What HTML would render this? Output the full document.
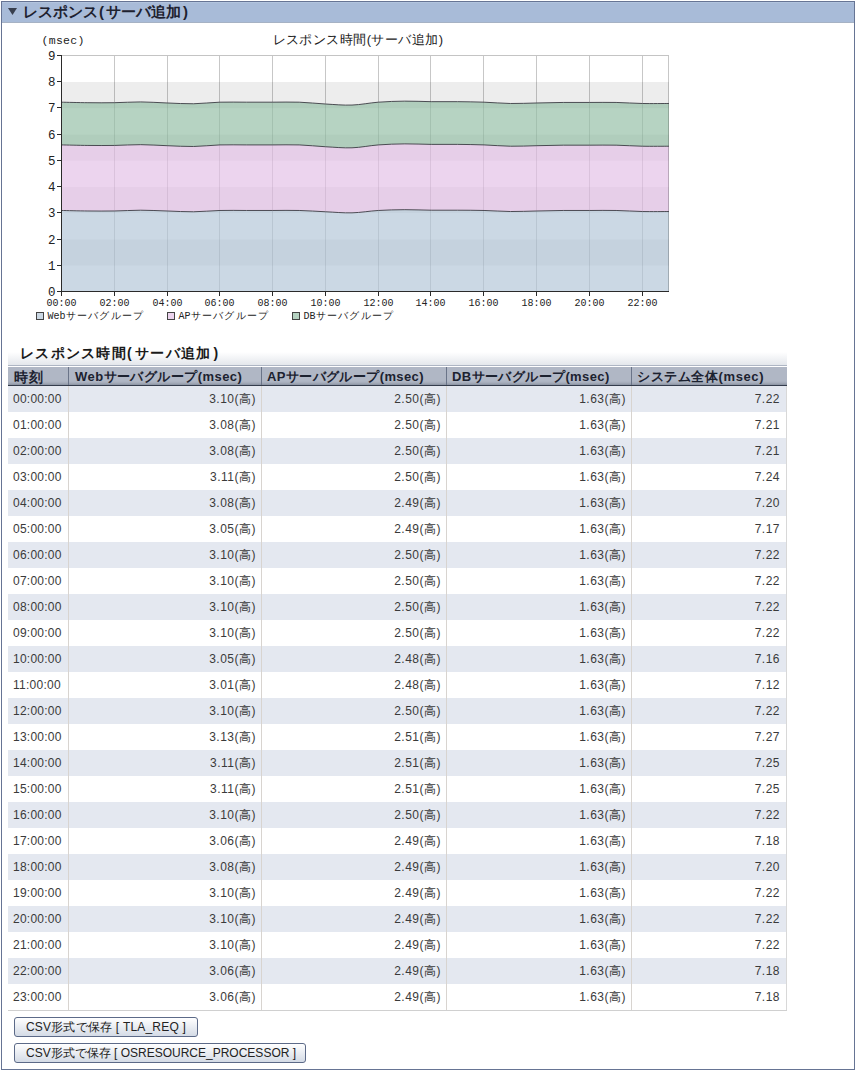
<!DOCTYPE html>
<html><head><meta charset="utf-8"><style>
html,body{margin:0;padding:0}
body{width:855px;height:1070px;position:relative;overflow:hidden;background:#fff;font-family:"Liberation Sans",sans-serif;color:#222}
.abs{position:absolute}
.row{position:absolute;left:8px;width:779px;height:26px}
.cell{position:absolute;height:26px;line-height:26px;font-size:12px;letter-spacing:0.5px;color:#3a3a3a;white-space:nowrap;box-sizing:border-box}
.hcell{position:absolute;top:368px;height:18px;line-height:18px;font-size:13px;letter-spacing:0.4px;font-weight:bold;color:#1c2230;white-space:nowrap}
.btn{position:absolute;left:14px;height:20px;box-sizing:border-box;border:1px solid #5c6a88;border-radius:3px;background:linear-gradient(#ffffff,#d4dbe6);font-size:12px;line-height:18px;padding-left:11px;letter-spacing:0.2px;color:#222;white-space:nowrap}
</style></head><body>
<div class="abs" style="left:1px;top:1px;width:852px;height:1067px;border:1px solid #667494"></div>
<div class="abs" style="left:2px;top:2px;width:852px;height:20px;background:#a8bbd8;border-bottom:1px solid #a6b2c4"></div>
<div class="abs" style="left:2px;top:2px;width:852px;height:1px;background:#b2c4de"></div>
<svg class="abs" style="left:0;top:0" width="30" height="25"><polygon points="8,8 17,8 12.5,15" fill="#383f4e"/></svg>
<div class="abs" style="left:23px;top:2px;height:20px;line-height:20px;font-size:15px;font-weight:bold;color:#1e2230;white-space:nowrap">レスポンス<span style="margin:0 2px 0 1px">(</span>サーバ追加<span style="margin-left:2px">)</span></div>
<svg width="855" height="335" style="position:absolute;left:0;top:0">
<rect x="62" y="265.53" width="607" height="26.22" fill="#ffffff"/>
<rect x="62" y="239.31" width="607" height="26.22" fill="#ededed"/>
<rect x="62" y="213.09" width="607" height="26.22" fill="#ffffff"/>
<rect x="62" y="186.87" width="607" height="26.22" fill="#ededed"/>
<rect x="62" y="160.65" width="607" height="26.22" fill="#ffffff"/>
<rect x="62" y="134.43" width="607" height="26.22" fill="#ededed"/>
<rect x="62" y="108.21" width="607" height="26.22" fill="#ffffff"/>
<rect x="62" y="81.99" width="607" height="26.22" fill="#ededed"/>
<rect x="62" y="55.77" width="607" height="26.22" fill="#ffffff"/>
<line x1="114.5" y1="56" x2="114.5" y2="291" stroke="#000" stroke-opacity="0.22" stroke-width="1"/>
<line x1="167.5" y1="56" x2="167.5" y2="291" stroke="#000" stroke-opacity="0.22" stroke-width="1"/>
<line x1="219.5" y1="56" x2="219.5" y2="291" stroke="#000" stroke-opacity="0.22" stroke-width="1"/>
<line x1="272.5" y1="56" x2="272.5" y2="291" stroke="#000" stroke-opacity="0.22" stroke-width="1"/>
<line x1="325.5" y1="56" x2="325.5" y2="291" stroke="#000" stroke-opacity="0.22" stroke-width="1"/>
<line x1="378.5" y1="56" x2="378.5" y2="291" stroke="#000" stroke-opacity="0.22" stroke-width="1"/>
<line x1="430.5" y1="56" x2="430.5" y2="291" stroke="#000" stroke-opacity="0.22" stroke-width="1"/>
<line x1="483.5" y1="56" x2="483.5" y2="291" stroke="#000" stroke-opacity="0.22" stroke-width="1"/>
<line x1="536.5" y1="56" x2="536.5" y2="291" stroke="#000" stroke-opacity="0.22" stroke-width="1"/>
<line x1="589.5" y1="56" x2="589.5" y2="291" stroke="#000" stroke-opacity="0.22" stroke-width="1"/>
<line x1="642.5" y1="56" x2="642.5" y2="291" stroke="#000" stroke-opacity="0.22" stroke-width="1"/>
<path d="M61.50,210.47 C65.90,210.56 79.11,210.91 87.91,210.99 C96.71,211.08 105.52,211.12 114.32,210.99 C123.12,210.86 131.93,210.21 140.73,210.21 C149.53,210.21 158.34,210.73 167.14,210.99 C175.94,211.25 184.75,211.87 193.55,211.78 C202.35,211.69 211.16,210.69 219.96,210.47 C228.76,210.25 237.57,210.47 246.37,210.47 C255.17,210.47 263.98,210.47 272.78,210.47 C281.58,210.47 290.39,210.25 299.19,210.47 C307.99,210.69 316.80,211.39 325.60,211.78 C334.40,212.17 343.21,213.05 352.01,212.83 C360.81,212.61 369.62,210.99 378.42,210.47 C387.22,209.94 396.03,209.73 404.83,209.68 C413.63,209.64 422.44,210.12 431.24,210.21 C440.04,210.29 448.85,210.16 457.65,210.21 C466.45,210.25 475.26,210.25 484.06,210.47 C492.86,210.69 501.67,211.43 510.47,211.52 C519.27,211.60 528.08,211.17 536.88,210.99 C545.68,210.82 554.49,210.56 563.29,210.47 C572.09,210.38 580.90,210.47 589.70,210.47 C598.50,210.47 607.31,210.29 616.11,210.47 C624.91,210.64 633.72,211.34 642.52,211.52 C651.32,211.69 664.53,211.52 668.93,211.52 L668.93,291.75 C664.53,291.75 651.32,291.75 642.52,291.75 C633.72,291.75 624.91,291.75 616.11,291.75 C607.31,291.75 598.50,291.75 589.70,291.75 C580.90,291.75 572.09,291.75 563.29,291.75 C554.49,291.75 545.68,291.75 536.88,291.75 C528.08,291.75 519.27,291.75 510.47,291.75 C501.67,291.75 492.86,291.75 484.06,291.75 C475.26,291.75 466.45,291.75 457.65,291.75 C448.85,291.75 440.04,291.75 431.24,291.75 C422.44,291.75 413.63,291.75 404.83,291.75 C396.03,291.75 387.22,291.75 378.42,291.75 C369.62,291.75 360.81,291.75 352.01,291.75 C343.21,291.75 334.40,291.75 325.60,291.75 C316.80,291.75 307.99,291.75 299.19,291.75 C290.39,291.75 281.58,291.75 272.78,291.75 C263.98,291.75 255.17,291.75 246.37,291.75 C237.57,291.75 228.76,291.75 219.96,291.75 C211.16,291.75 202.35,291.75 193.55,291.75 C184.75,291.75 175.94,291.75 167.14,291.75 C158.34,291.75 149.53,291.75 140.73,291.75 C131.93,291.75 123.12,291.75 114.32,291.75 C105.52,291.75 96.71,291.75 87.91,291.75 C79.11,291.75 65.90,291.75 61.50,291.75 Z" fill="#b2c6d7" fill-opacity="0.68"/>
<path d="M61.50,144.92 C65.90,145.01 79.11,145.35 87.91,145.44 C96.71,145.53 105.52,145.57 114.32,145.44 C123.12,145.31 131.93,144.61 140.73,144.66 C149.53,144.70 158.34,145.40 167.14,145.70 C175.94,146.01 184.75,146.62 193.55,146.49 C202.35,146.36 211.16,145.18 219.96,144.92 C228.76,144.66 237.57,144.92 246.37,144.92 C255.17,144.92 263.98,144.92 272.78,144.92 C281.58,144.92 290.39,144.61 299.19,144.92 C307.99,145.22 316.80,146.27 325.60,146.75 C334.40,147.23 343.21,148.11 352.01,147.80 C360.81,147.50 369.62,145.57 378.42,144.92 C387.22,144.26 396.03,143.96 404.83,143.87 C413.63,143.78 422.44,144.31 431.24,144.39 C440.04,144.48 448.85,144.31 457.65,144.39 C466.45,144.48 475.26,144.61 484.06,144.92 C492.86,145.22 501.67,146.10 510.47,146.23 C519.27,146.36 528.08,145.88 536.88,145.70 C545.68,145.53 554.49,145.27 563.29,145.18 C572.09,145.09 580.90,145.18 589.70,145.18 C598.50,145.18 607.31,145.01 616.11,145.18 C624.91,145.36 633.72,146.05 642.52,146.23 C651.32,146.40 664.53,146.23 668.93,146.23 L668.93,211.52 C664.53,211.52 651.32,211.69 642.52,211.52 C633.72,211.34 624.91,210.64 616.11,210.47 C607.31,210.29 598.50,210.47 589.70,210.47 C580.90,210.47 572.09,210.38 563.29,210.47 C554.49,210.56 545.68,210.82 536.88,210.99 C528.08,211.17 519.27,211.60 510.47,211.52 C501.67,211.43 492.86,210.69 484.06,210.47 C475.26,210.25 466.45,210.25 457.65,210.21 C448.85,210.16 440.04,210.29 431.24,210.21 C422.44,210.12 413.63,209.64 404.83,209.68 C396.03,209.73 387.22,209.94 378.42,210.47 C369.62,210.99 360.81,212.61 352.01,212.83 C343.21,213.05 334.40,212.17 325.60,211.78 C316.80,211.39 307.99,210.69 299.19,210.47 C290.39,210.25 281.58,210.47 272.78,210.47 C263.98,210.47 255.17,210.47 246.37,210.47 C237.57,210.47 228.76,210.25 219.96,210.47 C211.16,210.69 202.35,211.69 193.55,211.78 C184.75,211.87 175.94,211.25 167.14,210.99 C158.34,210.73 149.53,210.21 140.73,210.21 C131.93,210.21 123.12,210.86 114.32,210.99 C105.52,211.12 96.71,211.08 87.91,210.99 C79.11,210.91 65.90,210.56 61.50,210.47 Z" fill="#e3c0e6" fill-opacity="0.68"/>
<path d="M61.50,102.18 C65.90,102.27 79.11,102.62 87.91,102.70 C96.71,102.79 105.52,102.83 114.32,102.70 C123.12,102.57 131.93,101.87 140.73,101.92 C149.53,101.96 158.34,102.66 167.14,102.97 C175.94,103.27 184.75,103.88 193.55,103.75 C202.35,103.62 211.16,102.44 219.96,102.18 C228.76,101.92 237.57,102.18 246.37,102.18 C255.17,102.18 263.98,102.18 272.78,102.18 C281.58,102.18 290.39,101.87 299.19,102.18 C307.99,102.49 316.80,103.53 325.60,104.01 C334.40,104.50 343.21,105.37 352.01,105.06 C360.81,104.76 369.62,102.83 378.42,102.18 C387.22,101.52 396.03,101.22 404.83,101.13 C413.63,101.04 422.44,101.57 431.24,101.66 C440.04,101.74 448.85,101.57 457.65,101.66 C466.45,101.74 475.26,101.87 484.06,102.18 C492.86,102.49 501.67,103.36 510.47,103.49 C519.27,103.62 528.08,103.14 536.88,102.97 C545.68,102.79 554.49,102.53 563.29,102.44 C572.09,102.35 580.90,102.44 589.70,102.44 C598.50,102.44 607.31,102.27 616.11,102.44 C624.91,102.62 633.72,103.32 642.52,103.49 C651.32,103.67 664.53,103.49 668.93,103.49 L668.93,146.23 C664.53,146.23 651.32,146.40 642.52,146.23 C633.72,146.05 624.91,145.36 616.11,145.18 C607.31,145.01 598.50,145.18 589.70,145.18 C580.90,145.18 572.09,145.09 563.29,145.18 C554.49,145.27 545.68,145.53 536.88,145.70 C528.08,145.88 519.27,146.36 510.47,146.23 C501.67,146.10 492.86,145.22 484.06,144.92 C475.26,144.61 466.45,144.48 457.65,144.39 C448.85,144.31 440.04,144.48 431.24,144.39 C422.44,144.31 413.63,143.78 404.83,143.87 C396.03,143.96 387.22,144.26 378.42,144.92 C369.62,145.57 360.81,147.50 352.01,147.80 C343.21,148.11 334.40,147.23 325.60,146.75 C316.80,146.27 307.99,145.22 299.19,144.92 C290.39,144.61 281.58,144.92 272.78,144.92 C263.98,144.92 255.17,144.92 246.37,144.92 C237.57,144.92 228.76,144.66 219.96,144.92 C211.16,145.18 202.35,146.36 193.55,146.49 C184.75,146.62 175.94,146.01 167.14,145.70 C158.34,145.40 149.53,144.70 140.73,144.66 C131.93,144.61 123.12,145.31 114.32,145.44 C105.52,145.57 96.71,145.53 87.91,145.44 C79.11,145.35 65.90,145.01 61.50,144.92 Z" fill="#94bea5" fill-opacity="0.68"/>
<line x1="62" y1="55.5" x2="669" y2="55.5" stroke="#c4c4c4" stroke-width="1"/>
<line x1="668.5" y1="56" x2="668.5" y2="291" stroke="#000" stroke-opacity="0.22" stroke-width="1"/>
<path d="M61.50,210.47 C65.90,210.56 79.11,210.91 87.91,210.99 C96.71,211.08 105.52,211.12 114.32,210.99 C123.12,210.86 131.93,210.21 140.73,210.21 C149.53,210.21 158.34,210.73 167.14,210.99 C175.94,211.25 184.75,211.87 193.55,211.78 C202.35,211.69 211.16,210.69 219.96,210.47 C228.76,210.25 237.57,210.47 246.37,210.47 C255.17,210.47 263.98,210.47 272.78,210.47 C281.58,210.47 290.39,210.25 299.19,210.47 C307.99,210.69 316.80,211.39 325.60,211.78 C334.40,212.17 343.21,213.05 352.01,212.83 C360.81,212.61 369.62,210.99 378.42,210.47 C387.22,209.94 396.03,209.73 404.83,209.68 C413.63,209.64 422.44,210.12 431.24,210.21 C440.04,210.29 448.85,210.16 457.65,210.21 C466.45,210.25 475.26,210.25 484.06,210.47 C492.86,210.69 501.67,211.43 510.47,211.52 C519.27,211.60 528.08,211.17 536.88,210.99 C545.68,210.82 554.49,210.56 563.29,210.47 C572.09,210.38 580.90,210.47 589.70,210.47 C598.50,210.47 607.31,210.29 616.11,210.47 C624.91,210.64 633.72,211.34 642.52,211.52 C651.32,211.69 664.53,211.52 668.93,211.52" fill="none" stroke="#3c3c44" stroke-width="1" stroke-opacity="0.9"/>
<path d="M61.50,144.92 C65.90,145.01 79.11,145.35 87.91,145.44 C96.71,145.53 105.52,145.57 114.32,145.44 C123.12,145.31 131.93,144.61 140.73,144.66 C149.53,144.70 158.34,145.40 167.14,145.70 C175.94,146.01 184.75,146.62 193.55,146.49 C202.35,146.36 211.16,145.18 219.96,144.92 C228.76,144.66 237.57,144.92 246.37,144.92 C255.17,144.92 263.98,144.92 272.78,144.92 C281.58,144.92 290.39,144.61 299.19,144.92 C307.99,145.22 316.80,146.27 325.60,146.75 C334.40,147.23 343.21,148.11 352.01,147.80 C360.81,147.50 369.62,145.57 378.42,144.92 C387.22,144.26 396.03,143.96 404.83,143.87 C413.63,143.78 422.44,144.31 431.24,144.39 C440.04,144.48 448.85,144.31 457.65,144.39 C466.45,144.48 475.26,144.61 484.06,144.92 C492.86,145.22 501.67,146.10 510.47,146.23 C519.27,146.36 528.08,145.88 536.88,145.70 C545.68,145.53 554.49,145.27 563.29,145.18 C572.09,145.09 580.90,145.18 589.70,145.18 C598.50,145.18 607.31,145.01 616.11,145.18 C624.91,145.36 633.72,146.05 642.52,146.23 C651.32,146.40 664.53,146.23 668.93,146.23" fill="none" stroke="#3c3c44" stroke-width="1" stroke-opacity="0.9"/>
<path d="M61.50,102.18 C65.90,102.27 79.11,102.62 87.91,102.70 C96.71,102.79 105.52,102.83 114.32,102.70 C123.12,102.57 131.93,101.87 140.73,101.92 C149.53,101.96 158.34,102.66 167.14,102.97 C175.94,103.27 184.75,103.88 193.55,103.75 C202.35,103.62 211.16,102.44 219.96,102.18 C228.76,101.92 237.57,102.18 246.37,102.18 C255.17,102.18 263.98,102.18 272.78,102.18 C281.58,102.18 290.39,101.87 299.19,102.18 C307.99,102.49 316.80,103.53 325.60,104.01 C334.40,104.50 343.21,105.37 352.01,105.06 C360.81,104.76 369.62,102.83 378.42,102.18 C387.22,101.52 396.03,101.22 404.83,101.13 C413.63,101.04 422.44,101.57 431.24,101.66 C440.04,101.74 448.85,101.57 457.65,101.66 C466.45,101.74 475.26,101.87 484.06,102.18 C492.86,102.49 501.67,103.36 510.47,103.49 C519.27,103.62 528.08,103.14 536.88,102.97 C545.68,102.79 554.49,102.53 563.29,102.44 C572.09,102.35 580.90,102.44 589.70,102.44 C598.50,102.44 607.31,102.27 616.11,102.44 C624.91,102.62 633.72,103.32 642.52,103.49 C651.32,103.67 664.53,103.49 668.93,103.49" fill="none" stroke="#3c3c44" stroke-width="1" stroke-opacity="0.9"/>
<line x1="61.5" y1="55" x2="61.5" y2="292" stroke="#2a2a2a" stroke-width="1"/>
<line x1="61" y1="291.5" x2="669" y2="291.5" stroke="#2a2a2a" stroke-width="1"/>
<line x1="57" y1="291.5" x2="61.5" y2="291.5" stroke="#2a2a2a" stroke-width="1"/>
<text x="55.5" y="295.5" text-anchor="end" font-family="Liberation Mono" font-size="12.5" fill="#222">0</text>
<line x1="57" y1="265.5" x2="61.5" y2="265.5" stroke="#2a2a2a" stroke-width="1"/>
<text x="55.5" y="269.5" text-anchor="end" font-family="Liberation Mono" font-size="12.5" fill="#222">1</text>
<line x1="57" y1="239.5" x2="61.5" y2="239.5" stroke="#2a2a2a" stroke-width="1"/>
<text x="55.5" y="243.5" text-anchor="end" font-family="Liberation Mono" font-size="12.5" fill="#222">2</text>
<line x1="57" y1="212.5" x2="61.5" y2="212.5" stroke="#2a2a2a" stroke-width="1"/>
<text x="55.5" y="216.5" text-anchor="end" font-family="Liberation Mono" font-size="12.5" fill="#222">3</text>
<line x1="57" y1="186.5" x2="61.5" y2="186.5" stroke="#2a2a2a" stroke-width="1"/>
<text x="55.5" y="190.5" text-anchor="end" font-family="Liberation Mono" font-size="12.5" fill="#222">4</text>
<line x1="57" y1="160.5" x2="61.5" y2="160.5" stroke="#2a2a2a" stroke-width="1"/>
<text x="55.5" y="164.5" text-anchor="end" font-family="Liberation Mono" font-size="12.5" fill="#222">5</text>
<line x1="57" y1="134.5" x2="61.5" y2="134.5" stroke="#2a2a2a" stroke-width="1"/>
<text x="55.5" y="138.5" text-anchor="end" font-family="Liberation Mono" font-size="12.5" fill="#222">6</text>
<line x1="57" y1="107.5" x2="61.5" y2="107.5" stroke="#2a2a2a" stroke-width="1"/>
<text x="55.5" y="111.5" text-anchor="end" font-family="Liberation Mono" font-size="12.5" fill="#222">7</text>
<line x1="57" y1="81.5" x2="61.5" y2="81.5" stroke="#2a2a2a" stroke-width="1"/>
<text x="55.5" y="85.5" text-anchor="end" font-family="Liberation Mono" font-size="12.5" fill="#222">8</text>
<line x1="57" y1="55.5" x2="61.5" y2="55.5" stroke="#2a2a2a" stroke-width="1"/>
<text x="55.5" y="59.5" text-anchor="end" font-family="Liberation Mono" font-size="12.5" fill="#222">9</text>
<line x1="61.5" y1="291" x2="61.5" y2="296" stroke="#2a2a2a" stroke-width="1"/>
<text x="61.5" y="306" text-anchor="middle" font-family="Liberation Mono" font-size="10" fill="#222">00:00</text>
<line x1="114.5" y1="291" x2="114.5" y2="296" stroke="#2a2a2a" stroke-width="1"/>
<text x="114.5" y="306" text-anchor="middle" font-family="Liberation Mono" font-size="10" fill="#222">02:00</text>
<line x1="167.5" y1="291" x2="167.5" y2="296" stroke="#2a2a2a" stroke-width="1"/>
<text x="167.5" y="306" text-anchor="middle" font-family="Liberation Mono" font-size="10" fill="#222">04:00</text>
<line x1="219.5" y1="291" x2="219.5" y2="296" stroke="#2a2a2a" stroke-width="1"/>
<text x="219.5" y="306" text-anchor="middle" font-family="Liberation Mono" font-size="10" fill="#222">06:00</text>
<line x1="272.5" y1="291" x2="272.5" y2="296" stroke="#2a2a2a" stroke-width="1"/>
<text x="272.5" y="306" text-anchor="middle" font-family="Liberation Mono" font-size="10" fill="#222">08:00</text>
<line x1="325.5" y1="291" x2="325.5" y2="296" stroke="#2a2a2a" stroke-width="1"/>
<text x="325.5" y="306" text-anchor="middle" font-family="Liberation Mono" font-size="10" fill="#222">10:00</text>
<line x1="378.5" y1="291" x2="378.5" y2="296" stroke="#2a2a2a" stroke-width="1"/>
<text x="378.5" y="306" text-anchor="middle" font-family="Liberation Mono" font-size="10" fill="#222">12:00</text>
<line x1="430.5" y1="291" x2="430.5" y2="296" stroke="#2a2a2a" stroke-width="1"/>
<text x="430.5" y="306" text-anchor="middle" font-family="Liberation Mono" font-size="10" fill="#222">14:00</text>
<line x1="483.5" y1="291" x2="483.5" y2="296" stroke="#2a2a2a" stroke-width="1"/>
<text x="483.5" y="306" text-anchor="middle" font-family="Liberation Mono" font-size="10" fill="#222">16:00</text>
<line x1="536.5" y1="291" x2="536.5" y2="296" stroke="#2a2a2a" stroke-width="1"/>
<text x="536.5" y="306" text-anchor="middle" font-family="Liberation Mono" font-size="10" fill="#222">18:00</text>
<line x1="589.5" y1="291" x2="589.5" y2="296" stroke="#2a2a2a" stroke-width="1"/>
<text x="589.5" y="306" text-anchor="middle" font-family="Liberation Mono" font-size="10" fill="#222">20:00</text>
<line x1="642.5" y1="291" x2="642.5" y2="296" stroke="#2a2a2a" stroke-width="1"/>
<text x="642.5" y="306" text-anchor="middle" font-family="Liberation Mono" font-size="10" fill="#222">22:00</text>
<text x="41.5" y="43.5" font-family="Liberation Mono" font-size="11.5" letter-spacing="0.3" fill="#222">(msec)</text>
<text x="358" y="43.5" text-anchor="middle" font-family="Liberation Sans" font-size="13" letter-spacing="0.45" fill="#222">レスポンス時間(サーバ追加)</text>
<rect x="36.5" y="312.5" width="7" height="7" fill="#cbd8e4" stroke="#444" stroke-width="1"/>
<text x="47.5" y="319" font-family="Liberation Mono" font-size="10" fill="#222">Web<tspan letter-spacing="1.3">サーバグループ</tspan></text>
<rect x="167.5" y="312.5" width="7" height="7" fill="#ecd4ee" stroke="#444" stroke-width="1"/>
<text x="178.5" y="319" font-family="Liberation Mono" font-size="10" fill="#222">AP<tspan letter-spacing="1.3">サーバグループ</tspan></text>
<rect x="292.5" y="312.5" width="7" height="7" fill="#b6d3c2" stroke="#444" stroke-width="1"/>
<text x="303.5" y="319" font-family="Liberation Mono" font-size="10" fill="#222">DB<tspan letter-spacing="1.3">サーバグループ</tspan></text>
</svg>
<div class="abs" style="left:8px;top:352px;width:779px;height:13px;background:linear-gradient(#ffffff,#e4e7ec);border-bottom:1px solid #aeb6c4"></div>
<div class="abs" style="left:20px;top:343px;height:20px;line-height:20px;font-size:14px;font-weight:bold;letter-spacing:1.3px;color:#1a1a1a;white-space:nowrap">レスポンス時間<span style="margin-right:2px">(</span>サーバ追加<span style="margin-left:2px">)</span></div>
<div class="abs" style="left:8px;top:367px;width:779px;height:18px;background:linear-gradient(#b0b7c5 0,#b0b7c5 14px,#a4abb9 16px,#8a92a2 18px);border-bottom:1px solid #343c4c"></div>
<div class="hcell" style="left:14px;letter-spacing:1px;font-size:14px">時刻</div>
<div class="hcell" style="left:75px;letter-spacing:0.45px">Webサーバグループ(msec)</div>
<div class="hcell" style="left:267px;letter-spacing:0.4px">APサーバグループ(msec)</div>
<div class="hcell" style="left:452px;letter-spacing:0.4px">DBサーバグループ(msec)</div>
<div class="hcell" style="left:637px;letter-spacing:0.6px">システム全体(msec)</div>
<div class="row" style="top:386px;background:#e4e8f0"></div>
<div class="cell" style="top:386px;left:8px;width:60px;text-align:left;padding-left:5px;letter-spacing:0.25px">00:00:00</div>
<div class="cell" style="top:386px;left:68px;width:188px;text-align:right">3.10(高)</div>
<div class="cell" style="top:386px;left:261px;width:180px;text-align:right">2.50(高)</div>
<div class="cell" style="top:386px;left:446px;width:180px;text-align:right">1.63(高)</div>
<div class="cell" style="top:386px;left:631px;width:149px;text-align:right">7.22</div>
<div class="row" style="top:412px;background:#ffffff"></div>
<div class="cell" style="top:412px;left:8px;width:60px;text-align:left;padding-left:5px;letter-spacing:0.25px">01:00:00</div>
<div class="cell" style="top:412px;left:68px;width:188px;text-align:right">3.08(高)</div>
<div class="cell" style="top:412px;left:261px;width:180px;text-align:right">2.50(高)</div>
<div class="cell" style="top:412px;left:446px;width:180px;text-align:right">1.63(高)</div>
<div class="cell" style="top:412px;left:631px;width:149px;text-align:right">7.21</div>
<div class="row" style="top:438px;background:#e4e8f0"></div>
<div class="cell" style="top:438px;left:8px;width:60px;text-align:left;padding-left:5px;letter-spacing:0.25px">02:00:00</div>
<div class="cell" style="top:438px;left:68px;width:188px;text-align:right">3.08(高)</div>
<div class="cell" style="top:438px;left:261px;width:180px;text-align:right">2.50(高)</div>
<div class="cell" style="top:438px;left:446px;width:180px;text-align:right">1.63(高)</div>
<div class="cell" style="top:438px;left:631px;width:149px;text-align:right">7.21</div>
<div class="row" style="top:464px;background:#ffffff"></div>
<div class="cell" style="top:464px;left:8px;width:60px;text-align:left;padding-left:5px;letter-spacing:0.25px">03:00:00</div>
<div class="cell" style="top:464px;left:68px;width:188px;text-align:right">3.11(高)</div>
<div class="cell" style="top:464px;left:261px;width:180px;text-align:right">2.50(高)</div>
<div class="cell" style="top:464px;left:446px;width:180px;text-align:right">1.63(高)</div>
<div class="cell" style="top:464px;left:631px;width:149px;text-align:right">7.24</div>
<div class="row" style="top:490px;background:#e4e8f0"></div>
<div class="cell" style="top:490px;left:8px;width:60px;text-align:left;padding-left:5px;letter-spacing:0.25px">04:00:00</div>
<div class="cell" style="top:490px;left:68px;width:188px;text-align:right">3.08(高)</div>
<div class="cell" style="top:490px;left:261px;width:180px;text-align:right">2.49(高)</div>
<div class="cell" style="top:490px;left:446px;width:180px;text-align:right">1.63(高)</div>
<div class="cell" style="top:490px;left:631px;width:149px;text-align:right">7.20</div>
<div class="row" style="top:516px;background:#ffffff"></div>
<div class="cell" style="top:516px;left:8px;width:60px;text-align:left;padding-left:5px;letter-spacing:0.25px">05:00:00</div>
<div class="cell" style="top:516px;left:68px;width:188px;text-align:right">3.05(高)</div>
<div class="cell" style="top:516px;left:261px;width:180px;text-align:right">2.49(高)</div>
<div class="cell" style="top:516px;left:446px;width:180px;text-align:right">1.63(高)</div>
<div class="cell" style="top:516px;left:631px;width:149px;text-align:right">7.17</div>
<div class="row" style="top:542px;background:#e4e8f0"></div>
<div class="cell" style="top:542px;left:8px;width:60px;text-align:left;padding-left:5px;letter-spacing:0.25px">06:00:00</div>
<div class="cell" style="top:542px;left:68px;width:188px;text-align:right">3.10(高)</div>
<div class="cell" style="top:542px;left:261px;width:180px;text-align:right">2.50(高)</div>
<div class="cell" style="top:542px;left:446px;width:180px;text-align:right">1.63(高)</div>
<div class="cell" style="top:542px;left:631px;width:149px;text-align:right">7.22</div>
<div class="row" style="top:568px;background:#ffffff"></div>
<div class="cell" style="top:568px;left:8px;width:60px;text-align:left;padding-left:5px;letter-spacing:0.25px">07:00:00</div>
<div class="cell" style="top:568px;left:68px;width:188px;text-align:right">3.10(高)</div>
<div class="cell" style="top:568px;left:261px;width:180px;text-align:right">2.50(高)</div>
<div class="cell" style="top:568px;left:446px;width:180px;text-align:right">1.63(高)</div>
<div class="cell" style="top:568px;left:631px;width:149px;text-align:right">7.22</div>
<div class="row" style="top:594px;background:#e4e8f0"></div>
<div class="cell" style="top:594px;left:8px;width:60px;text-align:left;padding-left:5px;letter-spacing:0.25px">08:00:00</div>
<div class="cell" style="top:594px;left:68px;width:188px;text-align:right">3.10(高)</div>
<div class="cell" style="top:594px;left:261px;width:180px;text-align:right">2.50(高)</div>
<div class="cell" style="top:594px;left:446px;width:180px;text-align:right">1.63(高)</div>
<div class="cell" style="top:594px;left:631px;width:149px;text-align:right">7.22</div>
<div class="row" style="top:620px;background:#ffffff"></div>
<div class="cell" style="top:620px;left:8px;width:60px;text-align:left;padding-left:5px;letter-spacing:0.25px">09:00:00</div>
<div class="cell" style="top:620px;left:68px;width:188px;text-align:right">3.10(高)</div>
<div class="cell" style="top:620px;left:261px;width:180px;text-align:right">2.50(高)</div>
<div class="cell" style="top:620px;left:446px;width:180px;text-align:right">1.63(高)</div>
<div class="cell" style="top:620px;left:631px;width:149px;text-align:right">7.22</div>
<div class="row" style="top:646px;background:#e4e8f0"></div>
<div class="cell" style="top:646px;left:8px;width:60px;text-align:left;padding-left:5px;letter-spacing:0.25px">10:00:00</div>
<div class="cell" style="top:646px;left:68px;width:188px;text-align:right">3.05(高)</div>
<div class="cell" style="top:646px;left:261px;width:180px;text-align:right">2.48(高)</div>
<div class="cell" style="top:646px;left:446px;width:180px;text-align:right">1.63(高)</div>
<div class="cell" style="top:646px;left:631px;width:149px;text-align:right">7.16</div>
<div class="row" style="top:672px;background:#ffffff"></div>
<div class="cell" style="top:672px;left:8px;width:60px;text-align:left;padding-left:5px;letter-spacing:0.25px">11:00:00</div>
<div class="cell" style="top:672px;left:68px;width:188px;text-align:right">3.01(高)</div>
<div class="cell" style="top:672px;left:261px;width:180px;text-align:right">2.48(高)</div>
<div class="cell" style="top:672px;left:446px;width:180px;text-align:right">1.63(高)</div>
<div class="cell" style="top:672px;left:631px;width:149px;text-align:right">7.12</div>
<div class="row" style="top:698px;background:#e4e8f0"></div>
<div class="cell" style="top:698px;left:8px;width:60px;text-align:left;padding-left:5px;letter-spacing:0.25px">12:00:00</div>
<div class="cell" style="top:698px;left:68px;width:188px;text-align:right">3.10(高)</div>
<div class="cell" style="top:698px;left:261px;width:180px;text-align:right">2.50(高)</div>
<div class="cell" style="top:698px;left:446px;width:180px;text-align:right">1.63(高)</div>
<div class="cell" style="top:698px;left:631px;width:149px;text-align:right">7.22</div>
<div class="row" style="top:724px;background:#ffffff"></div>
<div class="cell" style="top:724px;left:8px;width:60px;text-align:left;padding-left:5px;letter-spacing:0.25px">13:00:00</div>
<div class="cell" style="top:724px;left:68px;width:188px;text-align:right">3.13(高)</div>
<div class="cell" style="top:724px;left:261px;width:180px;text-align:right">2.51(高)</div>
<div class="cell" style="top:724px;left:446px;width:180px;text-align:right">1.63(高)</div>
<div class="cell" style="top:724px;left:631px;width:149px;text-align:right">7.27</div>
<div class="row" style="top:750px;background:#e4e8f0"></div>
<div class="cell" style="top:750px;left:8px;width:60px;text-align:left;padding-left:5px;letter-spacing:0.25px">14:00:00</div>
<div class="cell" style="top:750px;left:68px;width:188px;text-align:right">3.11(高)</div>
<div class="cell" style="top:750px;left:261px;width:180px;text-align:right">2.51(高)</div>
<div class="cell" style="top:750px;left:446px;width:180px;text-align:right">1.63(高)</div>
<div class="cell" style="top:750px;left:631px;width:149px;text-align:right">7.25</div>
<div class="row" style="top:776px;background:#ffffff"></div>
<div class="cell" style="top:776px;left:8px;width:60px;text-align:left;padding-left:5px;letter-spacing:0.25px">15:00:00</div>
<div class="cell" style="top:776px;left:68px;width:188px;text-align:right">3.11(高)</div>
<div class="cell" style="top:776px;left:261px;width:180px;text-align:right">2.51(高)</div>
<div class="cell" style="top:776px;left:446px;width:180px;text-align:right">1.63(高)</div>
<div class="cell" style="top:776px;left:631px;width:149px;text-align:right">7.25</div>
<div class="row" style="top:802px;background:#e4e8f0"></div>
<div class="cell" style="top:802px;left:8px;width:60px;text-align:left;padding-left:5px;letter-spacing:0.25px">16:00:00</div>
<div class="cell" style="top:802px;left:68px;width:188px;text-align:right">3.10(高)</div>
<div class="cell" style="top:802px;left:261px;width:180px;text-align:right">2.50(高)</div>
<div class="cell" style="top:802px;left:446px;width:180px;text-align:right">1.63(高)</div>
<div class="cell" style="top:802px;left:631px;width:149px;text-align:right">7.22</div>
<div class="row" style="top:828px;background:#ffffff"></div>
<div class="cell" style="top:828px;left:8px;width:60px;text-align:left;padding-left:5px;letter-spacing:0.25px">17:00:00</div>
<div class="cell" style="top:828px;left:68px;width:188px;text-align:right">3.06(高)</div>
<div class="cell" style="top:828px;left:261px;width:180px;text-align:right">2.49(高)</div>
<div class="cell" style="top:828px;left:446px;width:180px;text-align:right">1.63(高)</div>
<div class="cell" style="top:828px;left:631px;width:149px;text-align:right">7.18</div>
<div class="row" style="top:854px;background:#e4e8f0"></div>
<div class="cell" style="top:854px;left:8px;width:60px;text-align:left;padding-left:5px;letter-spacing:0.25px">18:00:00</div>
<div class="cell" style="top:854px;left:68px;width:188px;text-align:right">3.08(高)</div>
<div class="cell" style="top:854px;left:261px;width:180px;text-align:right">2.49(高)</div>
<div class="cell" style="top:854px;left:446px;width:180px;text-align:right">1.63(高)</div>
<div class="cell" style="top:854px;left:631px;width:149px;text-align:right">7.20</div>
<div class="row" style="top:880px;background:#ffffff"></div>
<div class="cell" style="top:880px;left:8px;width:60px;text-align:left;padding-left:5px;letter-spacing:0.25px">19:00:00</div>
<div class="cell" style="top:880px;left:68px;width:188px;text-align:right">3.10(高)</div>
<div class="cell" style="top:880px;left:261px;width:180px;text-align:right">2.49(高)</div>
<div class="cell" style="top:880px;left:446px;width:180px;text-align:right">1.63(高)</div>
<div class="cell" style="top:880px;left:631px;width:149px;text-align:right">7.22</div>
<div class="row" style="top:906px;background:#e4e8f0"></div>
<div class="cell" style="top:906px;left:8px;width:60px;text-align:left;padding-left:5px;letter-spacing:0.25px">20:00:00</div>
<div class="cell" style="top:906px;left:68px;width:188px;text-align:right">3.10(高)</div>
<div class="cell" style="top:906px;left:261px;width:180px;text-align:right">2.49(高)</div>
<div class="cell" style="top:906px;left:446px;width:180px;text-align:right">1.63(高)</div>
<div class="cell" style="top:906px;left:631px;width:149px;text-align:right">7.22</div>
<div class="row" style="top:932px;background:#ffffff"></div>
<div class="cell" style="top:932px;left:8px;width:60px;text-align:left;padding-left:5px;letter-spacing:0.25px">21:00:00</div>
<div class="cell" style="top:932px;left:68px;width:188px;text-align:right">3.10(高)</div>
<div class="cell" style="top:932px;left:261px;width:180px;text-align:right">2.49(高)</div>
<div class="cell" style="top:932px;left:446px;width:180px;text-align:right">1.63(高)</div>
<div class="cell" style="top:932px;left:631px;width:149px;text-align:right">7.22</div>
<div class="row" style="top:958px;background:#e4e8f0"></div>
<div class="cell" style="top:958px;left:8px;width:60px;text-align:left;padding-left:5px;letter-spacing:0.25px">22:00:00</div>
<div class="cell" style="top:958px;left:68px;width:188px;text-align:right">3.06(高)</div>
<div class="cell" style="top:958px;left:261px;width:180px;text-align:right">2.49(高)</div>
<div class="cell" style="top:958px;left:446px;width:180px;text-align:right">1.63(高)</div>
<div class="cell" style="top:958px;left:631px;width:149px;text-align:right">7.18</div>
<div class="row" style="top:984px;background:#ffffff"></div>
<div class="cell" style="top:984px;left:8px;width:60px;text-align:left;padding-left:5px;letter-spacing:0.25px">23:00:00</div>
<div class="cell" style="top:984px;left:68px;width:188px;text-align:right">3.06(高)</div>
<div class="cell" style="top:984px;left:261px;width:180px;text-align:right">2.49(高)</div>
<div class="cell" style="top:984px;left:446px;width:180px;text-align:right">1.63(高)</div>
<div class="cell" style="top:984px;left:631px;width:149px;text-align:right">7.18</div>
<div style="position:absolute;left:68px;top:367px;width:1px;height:18px;background:#6a7488"></div>
<div style="position:absolute;left:68px;top:386px;width:1px;height:624px;background:#d8d4d0"></div>
<div style="position:absolute;left:261px;top:367px;width:1px;height:18px;background:#6a7488"></div>
<div style="position:absolute;left:261px;top:386px;width:1px;height:624px;background:#d8d4d0"></div>
<div style="position:absolute;left:446px;top:367px;width:1px;height:18px;background:#6a7488"></div>
<div style="position:absolute;left:446px;top:386px;width:1px;height:624px;background:#d8d4d0"></div>
<div style="position:absolute;left:631px;top:367px;width:1px;height:18px;background:#6a7488"></div>
<div style="position:absolute;left:631px;top:386px;width:1px;height:624px;background:#d8d4d0"></div>
<div style="position:absolute;left:786px;top:386px;width:1px;height:624px;background:#d8d8d8"></div>
<div class="abs" style="left:8px;top:1010px;width:779px;height:1px;background:#d0d0d0"></div>
<div class="btn" style="top:1017px;width:184px">CSV形式で保存 [ TLA_REQ ]</div>
<div class="btn" style="top:1043px;width:292px;letter-spacing:0">CSV形式で保存 [ OSRESOURCE_PROCESSOR ]</div>
</body></html>
